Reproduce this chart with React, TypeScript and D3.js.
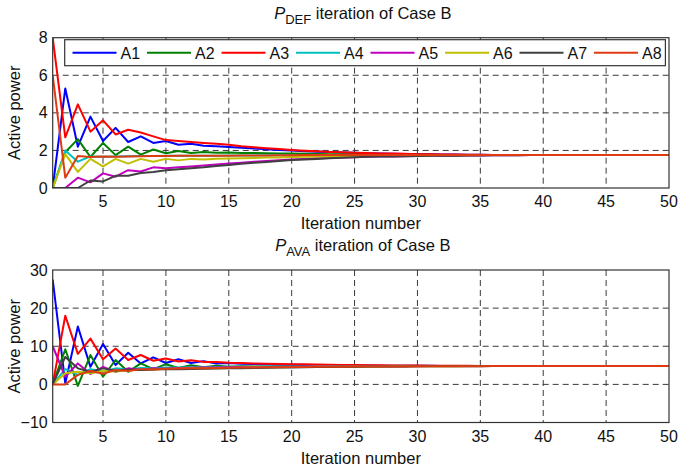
import React from "react";
import * as d3 from "d3";

// Iteration index 1..50
const iterations: number[] = d3.range(1, 51);

const agentNames = ["A1", "A2", "A3", "A4", "A5", "A6", "A7", "A8"];
const agentColors = ["#0000ff", "#008000", "#ff0000", "#00bfbf", "#bf00bf", "#bfbf00", "#404040", "#de3b12"];

// P_DEF per agent
const defA1 = [0, 5.3, 2.2, 3.8, 2.5, 3.2, 2.45, 2.75, 2.4, 2.5, 2.3, 2.35, 2.25, 2.22, 2.18, 2.14, 2.1, 2.06, 2.02, 1.99, 1.96, 1.93, 1.91, 1.89, 1.87, 1.85, 1.83, 1.82, 1.81, 1.8, 1.79, 1.78, 1.78, 1.77, 1.77, 1.76, 1.76, 1.76, 1.75, 1.75, 1.75, 1.75, 1.75, 1.75, 1.75, 1.75, 1.75, 1.75, 1.75, 1.75];
const defA2 = [0, 1.9, 2.6, 1.65, 2.4, 1.75, 2.2, 1.78, 2.05, 1.85, 1.97, 1.86, 1.92, 1.87, 1.89, 1.86, 1.86, 1.85, 1.84, 1.83, 1.82, 1.81, 1.8, 1.8, 1.79, 1.79, 1.78, 1.78, 1.77, 1.77, 1.77, 1.76, 1.76, 1.76, 1.76, 1.75, 1.75, 1.75, 1.75, 1.75, 1.75, 1.75, 1.75, 1.75, 1.75, 1.75, 1.75, 1.75, 1.75, 1.75];
const defA3 = [8, 2.7, 4.45, 3.0, 3.6, 2.85, 3.1, 2.95, 2.75, 2.55, 2.5, 2.45, 2.4, 2.35, 2.3, 2.22, 2.17, 2.12, 2.07, 2.02, 1.98, 1.95, 1.92, 1.9, 1.88, 1.86, 1.84, 1.83, 1.82, 1.8, 1.79, 1.78, 1.78, 1.77, 1.77, 1.76, 1.76, 1.76, 1.75, 1.75, 1.75, 1.75, 1.75, 1.75, 1.75, 1.75, 1.75, 1.75, 1.75, 1.75];
const defA4 = [0, 2.0, 1.4, 1.68, 1.66, 1.68, 1.69, 1.7, 1.7, 1.71, 1.71, 1.72, 1.72, 1.72, 1.73, 1.73, 1.73, 1.74, 1.74, 1.74, 1.75, 1.75, 1.75, 1.75, 1.75, 1.75, 1.75, 1.75, 1.75, 1.75, 1.75, 1.75, 1.75, 1.75, 1.75, 1.75, 1.75, 1.75, 1.75, 1.75, 1.75, 1.75, 1.75, 1.75, 1.75, 1.75, 1.75, 1.75, 1.75, 1.75];
const defA5 = [0, 0, 0.55, 0.3, 0.78, 0.6, 0.95, 0.88, 1.1, 1.05, 1.1, 1.15, 1.2, 1.25, 1.3, 1.35, 1.4, 1.44, 1.48, 1.52, 1.55, 1.58, 1.6, 1.62, 1.64, 1.66, 1.67, 1.68, 1.69, 1.7, 1.71, 1.72, 1.72, 1.73, 1.73, 1.74, 1.74, 1.74, 1.75, 1.75, 1.75, 1.75, 1.75, 1.75, 1.75, 1.75, 1.75, 1.75, 1.75, 1.75];
const defA6 = [0, 1.8, 0.86, 1.55, 1.15, 1.55, 1.3, 1.55, 1.4, 1.55, 1.47, 1.55, 1.52, 1.56, 1.57, 1.59, 1.6, 1.62, 1.63, 1.65, 1.66, 1.67, 1.68, 1.69, 1.7, 1.71, 1.71, 1.72, 1.72, 1.73, 1.73, 1.74, 1.74, 1.74, 1.75, 1.75, 1.75, 1.75, 1.75, 1.75, 1.75, 1.75, 1.75, 1.75, 1.75, 1.75, 1.75, 1.75, 1.75, 1.75];
const defA7 = [0, 0, 0, 0.4, 0.35, 0.65, 0.65, 0.8, 0.85, 0.95, 1.0, 1.05, 1.1, 1.17, 1.23, 1.29, 1.34, 1.39, 1.44, 1.49, 1.52, 1.55, 1.58, 1.61, 1.64, 1.66, 1.67, 1.68, 1.69, 1.7, 1.71, 1.72, 1.72, 1.73, 1.73, 1.74, 1.74, 1.74, 1.75, 1.75, 1.75, 1.75, 1.75, 1.75, 1.75, 1.75, 1.75, 1.75, 1.75, 1.75];
const defA8 = [6, 0.55, 1.7, 1.65, 1.68, 1.66, 1.68, 1.69, 1.7, 1.7, 1.71, 1.71, 1.72, 1.72, 1.72, 1.73, 1.73, 1.73, 1.74, 1.74, 1.75, 1.75, 1.75, 1.75, 1.75, 1.75, 1.75, 1.75, 1.75, 1.75, 1.75, 1.75, 1.75, 1.75, 1.75, 1.75, 1.75, 1.75, 1.75, 1.75, 1.75, 1.75, 1.75, 1.75, 1.75, 1.75, 1.75, 1.75, 1.75, 1.75];

// P_AVA per agent
const avaA1 = [27.5, 0.3, 15.2, 4.6, 10.6, 5.1, 8.3, 5.5, 7.1, 5.6, 6.6, 5.6, 6.1, 5.5, 5.6, 5.4, 5.35, 5.25, 5.18, 5.12, 5.07, 5.03, 5.0, 4.97, 4.95, 4.93, 4.91, 4.9, 4.88, 4.87, 4.86, 4.85, 4.84, 4.83, 4.83, 4.82, 4.82, 4.81, 4.81, 4.8, 4.8, 4.8, 4.8, 4.8, 4.8, 4.8, 4.8, 4.8, 4.8, 4.8];
const avaA2 = [0, 9.2, -0.4, 7.7, 2.0, 6.4, 3.3, 5.5, 4.0, 5.3, 4.3, 5.0, 4.5, 4.9, 4.6, 4.75, 4.68, 4.72, 4.72, 4.74, 4.75, 4.76, 4.77, 4.77, 4.78, 4.78, 4.79, 4.79, 4.8, 4.8, 4.8, 4.8, 4.8, 4.8, 4.8, 4.8, 4.8, 4.8, 4.8, 4.8, 4.8, 4.8, 4.8, 4.8, 4.8, 4.8, 4.8, 4.8, 4.8, 4.8];
const avaA3 = [0, 18, 8, 12, 6.6, 9.4, 6.4, 7.7, 6.2, 6.8, 6.0, 6.3, 5.9, 5.9, 5.7, 5.6, 5.5, 5.42, 5.35, 5.3, 5.25, 5.2, 5.15, 5.1, 5.06, 5.02, 4.99, 4.96, 4.94, 4.92, 4.9, 4.88, 4.87, 4.86, 4.85, 4.84, 4.83, 4.82, 4.81, 4.8, 4.8, 4.8, 4.8, 4.8, 4.8, 4.8, 4.8, 4.8, 4.8, 4.8];
const avaA4 = [0, 4, 2.5, 4, 3.4, 4.2, 3.9, 4.3, 4.2, 4.4, 4.4, 4.5, 4.5, 4.55, 4.6, 4.62, 4.64, 4.66, 4.68, 4.7, 4.71, 4.72, 4.73, 4.74, 4.75, 4.76, 4.77, 4.78, 4.79, 4.8, 4.8, 4.8, 4.8, 4.8, 4.8, 4.8, 4.8, 4.8, 4.8, 4.8, 4.8, 4.8, 4.8, 4.8, 4.8, 4.8, 4.8, 4.8, 4.8, 4.8];
const avaA5 = [10, 2, 5.5, 2.7, 4.6, 3.3, 4.2, 3.8, 4.2, 4.1, 4.3, 4.35, 4.4, 4.45, 4.5, 4.53, 4.56, 4.59, 4.62, 4.65, 4.67, 4.69, 4.71, 4.72, 4.73, 4.74, 4.75, 4.76, 4.77, 4.78, 4.79, 4.8, 4.8, 4.8, 4.8, 4.8, 4.8, 4.8, 4.8, 4.8, 4.8, 4.8, 4.8, 4.8, 4.8, 4.8, 4.8, 4.8, 4.8, 4.8];
const avaA6 = [0, 2.9, 3.3, 2.9, 3.5, 3.4, 3.7, 3.8, 3.9, 4.0, 4.1, 4.15, 4.2, 4.25, 4.3, 4.35, 4.4, 4.45, 4.5, 4.54, 4.57, 4.6, 4.63, 4.65, 4.67, 4.69, 4.71, 4.73, 4.74, 4.75, 4.76, 4.77, 4.78, 4.79, 4.8, 4.8, 4.8, 4.8, 4.8, 4.8, 4.8, 4.8, 4.8, 4.8, 4.8, 4.8, 4.8, 4.8, 4.8, 4.8];
const avaA7 = [0, 7.2, 4.2, 3.3, 4.2, 3.6, 3.9, 3.8, 3.9, 4.0, 4.0, 4.05, 4.1, 4.15, 4.2, 4.25, 4.3, 4.35, 4.4, 4.45, 4.5, 4.54, 4.57, 4.6, 4.63, 4.66, 4.68, 4.7, 4.72, 4.73, 4.74, 4.75, 4.76, 4.77, 4.78, 4.79, 4.8, 4.8, 4.8, 4.8, 4.8, 4.8, 4.8, 4.8, 4.8, 4.8, 4.8, 4.8, 4.8, 4.8];
const avaA8 = [0, 0, 2.5, 3.5, 2.8, 3.8, 3.5, 4.0, 3.9, 4.1, 4.15, 4.2, 4.25, 4.3, 4.35, 4.4, 4.44, 4.48, 4.52, 4.55, 4.58, 4.6, 4.62, 4.64, 4.66, 4.68, 4.7, 4.71, 4.72, 4.73, 4.74, 4.75, 4.76, 4.77, 4.78, 4.79, 4.8, 4.8, 4.8, 4.8, 4.8, 4.8, 4.8, 4.8, 4.8, 4.8, 4.8, 4.8, 4.8, 4.8];

const defSeries = [defA1, defA2, defA3, defA4, defA5, defA6, defA7, defA8];
const avaSeries = [avaA1, avaA2, avaA3, avaA4, avaA5, avaA6, avaA7, avaA8];

const xTicks = [5, 10, 15, 20, 25, 30, 35, 40, 45, 50];
const defYTicks = [0, 2, 4, 6, 8];
const avaYTicks = [-10, 0, 10, 20, 30];

const FONT = "'Liberation Sans Narrow', 'Liberation Sans', Arial, Helvetica, sans-serif";
const W = 678;
const H = 470;
const LEFT = 52.7;
const RIGHT = 669;

type PanelProps = {
  id: string;
  top: number;
  bottom: number;
  yDomain: [number, number];
  yTicks: number[];
  series: number[][];
  sub: string;
  showLegend: boolean;
};

const fmt = (v: number) => (v < 0 ? "\u2212" + Math.abs(v) : String(v));

function Panel({ id, top, bottom, yDomain, yTicks, series, sub, showLegend }: PanelProps) {
  const x = d3.scaleLinear().domain([1, 50]).range([LEFT, RIGHT]);
  const y = d3.scaleLinear().domain(yDomain).range([bottom, top]);
  const line = d3
    .line<number>()
    .x((_, i) => x(iterations[i]))
    .y((v) => y(v));
  const cx = (LEFT + RIGHT) / 2;
  const cy = (top + bottom) / 2;
  const innerY = yTicks.filter((t) => t > yDomain[0] && t < yDomain[1]);
  const innerX = xTicks.filter((t) => t < 50);
  const legendTop = top + 2;
  const legendLeft = 64.7;
  const legendStep = 74.5;
  return (
    <g>
      <defs>
        <clipPath id={id}>
          <rect x={LEFT} y={top} width={RIGHT - LEFT} height={bottom - top} />
        </clipPath>
      </defs>
      {/* grid */}
      {innerX.map((t) => (
        <line key={"gx" + t} x1={x(t)} x2={x(t)} y1={top} y2={bottom} stroke="#3a3a3a" strokeWidth={1} strokeDasharray="6,4" />
      ))}
      {innerY.map((t) => (
        <line key={"gy" + t} x1={LEFT} x2={RIGHT} y1={y(t)} y2={y(t)} stroke="#3a3a3a" strokeWidth={1} strokeDasharray="6,4" />
      ))}
      {/* series */}
      <g clipPath={`url(#${id})`}>
        {series.map((s, i) => (
          <path key={i} d={line(s) || ""} fill="none" stroke={agentColors[i]} strokeWidth={2} strokeLinejoin="round" />
        ))}
      </g>
      <rect x={LEFT} y={top} width={RIGHT - LEFT} height={bottom - top} fill="none" stroke="#333" strokeWidth={1.2} />
      {/* tick labels */}
      {xTicks.map((t) => (
        <text key={"tx" + t} x={x(t)} y={bottom + 19} textAnchor="middle" fontSize={16} fontFamily={FONT} fill="#111">
          {t}
        </text>
      ))}
      {yTicks.map((t) => (
        <text key={"ty" + t} x={LEFT - 5} y={y(t) + 5.5} textAnchor="end" fontSize={16} fontFamily={FONT} fill="#111">
          {fmt(t)}
        </text>
      ))}
      {/* axis titles */}
      <text x={cx} y={bottom + 41} textAnchor="middle" fontSize={16.5} fontFamily={FONT} fill="#111">
        Iteration number
      </text>
      <text
        transform={`translate(${20},${cy}) rotate(-90)`}
        textAnchor="middle"
        fontSize={16.5}
        fontFamily={FONT}
        fill="#111"
      >
        Active power
      </text>
      <text x={cx + 2} y={top - 19} textAnchor="middle" fontSize={16.5} fontFamily={FONT} fill="#111">
        <tspan fontStyle="italic">P</tspan>
        <tspan fontSize={13} dy={5}>{sub}</tspan>
        <tspan dy={-5}> iteration of Case B</tspan>
      </text>
      {showLegend && (
        <g>
          <rect x={legendLeft} y={legendTop} width={600.7} height={26} fill="#fff" stroke="#333" strokeWidth={1.2} />
          {agentNames.map((n, i) => {
            const lx = legendLeft + 7.8 + i * legendStep;
            return (
              <g key={n}>
                <line x1={lx} x2={lx + 44} y1={legendTop + 13} y2={legendTop + 13} stroke={agentColors[i]} strokeWidth={2} />
                <text x={lx + 48} y={legendTop + 19} fontSize={16} fontFamily={FONT} fill="#111">
                  {n}
                </text>
              </g>
            );
          })}
        </g>
      )}
    </g>
  );
}

export default function App() {
  return (
    <svg width={W} height={H} style={{ display: "block", position: "absolute", left: 0, top: 0, background: "#fff" }}>
      <rect x={0} y={0} width={W} height={H} fill="#fff" />
      <Panel id="clip-def" top={37.7} bottom={188} yDomain={[0, 8]} yTicks={defYTicks} series={defSeries} sub="DEF" showLegend={true} />
      <Panel id="clip-ava" top={270} bottom={422.5} yDomain={[-10, 30]} yTicks={avaYTicks} series={avaSeries} sub="AVA" showLegend={false} />
    </svg>
  );
}
